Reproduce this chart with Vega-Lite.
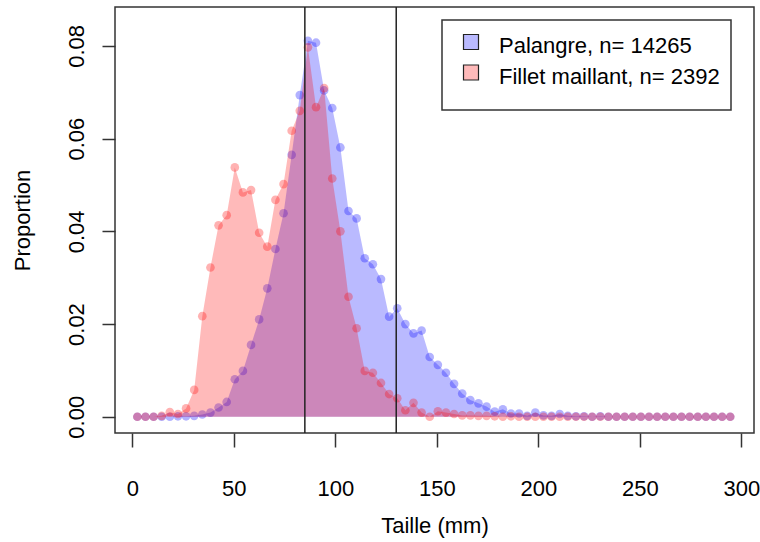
{
  "$schema": "https://vega.github.io/schema/vega-lite/v6.json",
  "width": 639,
  "height": 426,
  "autosize": {"type": "none"},
  "padding": {"left": 115, "top": 7, "right": 6, "bottom": 109},
  "background": "white",
  "config": {
    "font": "Liberation Sans",
    "view": {"stroke": "#333", "strokeWidth": 1.5},
    "axis": {"grid": false, "domain": false, "labelFont": "Liberation Sans", "titleFont": "Liberation Sans", "labelColor": "#000", "titleColor": "#000", "titleFontWeight": "normal", "tickColor": "#333", "tickWidth": 1.5}
  },
  "datasets": {
    "palangre": [
      {"taille": 2.5, "proportion": 0}, {"taille": 6.5, "proportion": 0}, {"taille": 10.5, "proportion": 0}, {"taille": 14.5, "proportion": 0},
      {"taille": 18.5, "proportion": 0}, {"taille": 22.5, "proportion": 0.0001}, {"taille": 26.5, "proportion": 0.0001}, {"taille": 30.5, "proportion": 0.0002},
      {"taille": 34.5, "proportion": 0.0005}, {"taille": 38.5, "proportion": 0.0009}, {"taille": 42.5, "proportion": 0.002}, {"taille": 46.5, "proportion": 0.0032},
      {"taille": 50.5, "proportion": 0.0081}, {"taille": 54.5, "proportion": 0.0099}, {"taille": 58.5, "proportion": 0.0155}, {"taille": 62.5, "proportion": 0.021},
      {"taille": 66.5, "proportion": 0.0277}, {"taille": 70.5, "proportion": 0.0362}, {"taille": 74.5, "proportion": 0.0439}, {"taille": 78.5, "proportion": 0.0565},
      {"taille": 82.5, "proportion": 0.0694}, {"taille": 86.5, "proportion": 0.0811}, {"taille": 90.5, "proportion": 0.0807}, {"taille": 94.5, "proportion": 0.0704},
      {"taille": 98.5, "proportion": 0.0666}, {"taille": 102.5, "proportion": 0.0581}, {"taille": 106.5, "proportion": 0.0444}, {"taille": 110.5, "proportion": 0.0428},
      {"taille": 114.5, "proportion": 0.0342}, {"taille": 118.5, "proportion": 0.0329}, {"taille": 122.5, "proportion": 0.0297}, {"taille": 126.5, "proportion": 0.0216},
      {"taille": 130.5, "proportion": 0.0234}, {"taille": 134.5, "proportion": 0.02}, {"taille": 138.5, "proportion": 0.018}, {"taille": 142.5, "proportion": 0.0186},
      {"taille": 146.5, "proportion": 0.0129}, {"taille": 150.5, "proportion": 0.0112}, {"taille": 154.5, "proportion": 0.0095}, {"taille": 158.5, "proportion": 0.0071},
      {"taille": 162.5, "proportion": 0.005}, {"taille": 166.5, "proportion": 0.0036}, {"taille": 170.5, "proportion": 0.0029}, {"taille": 174.5, "proportion": 0.0022},
      {"taille": 178.5, "proportion": 0.0011}, {"taille": 182.5, "proportion": 0.0016}, {"taille": 186.5, "proportion": 0.0007}, {"taille": 190.5, "proportion": 0.0007},
      {"taille": 194.5, "proportion": 0.0002}, {"taille": 198.5, "proportion": 0.0009}, {"taille": 202.5, "proportion": 0.0003}, {"taille": 206.5, "proportion": 0.0002},
      {"taille": 210.5, "proportion": 0.0006}, {"taille": 214.5, "proportion": 0.0002}, {"taille": 218.5, "proportion": 0.0001}, {"taille": 222.5, "proportion": 0.0001},
      {"taille": 226.5, "proportion": 0}, {"taille": 230.5, "proportion": 0.0001}, {"taille": 234.5, "proportion": 0}, {"taille": 238.5, "proportion": 0},
      {"taille": 242.5, "proportion": 0}, {"taille": 246.5, "proportion": 0}, {"taille": 250.5, "proportion": 0}, {"taille": 254.5, "proportion": 0},
      {"taille": 258.5, "proportion": 0}, {"taille": 262.5, "proportion": 0}, {"taille": 266.5, "proportion": 0}, {"taille": 270.5, "proportion": 0},
      {"taille": 274.5, "proportion": 0}, {"taille": 278.5, "proportion": 0}, {"taille": 282.5, "proportion": 0}, {"taille": 286.5, "proportion": 0},
      {"taille": 290.5, "proportion": 0}, {"taille": 294.5, "proportion": 0}
    ],
    "fillet": [
      {"taille": 2.5, "proportion": 0}, {"taille": 6.5, "proportion": 0}, {"taille": 10.5, "proportion": 0}, {"taille": 14.5, "proportion": 0.0002},
      {"taille": 18.5, "proportion": 0.001}, {"taille": 22.5, "proportion": 0.0006}, {"taille": 26.5, "proportion": 0.0018}, {"taille": 30.5, "proportion": 0.0058},
      {"taille": 34.5, "proportion": 0.0217}, {"taille": 38.5, "proportion": 0.0322}, {"taille": 42.5, "proportion": 0.0413}, {"taille": 46.5, "proportion": 0.0435},
      {"taille": 50.5, "proportion": 0.0538}, {"taille": 54.5, "proportion": 0.0484}, {"taille": 58.5, "proportion": 0.0489}, {"taille": 62.5, "proportion": 0.0397},
      {"taille": 66.5, "proportion": 0.0367}, {"taille": 70.5, "proportion": 0.0468}, {"taille": 74.5, "proportion": 0.0502}, {"taille": 78.5, "proportion": 0.0617},
      {"taille": 82.5, "proportion": 0.066}, {"taille": 86.5, "proportion": 0.0797}, {"taille": 90.5, "proportion": 0.0668}, {"taille": 94.5, "proportion": 0.0709},
      {"taille": 98.5, "proportion": 0.0514}, {"taille": 102.5, "proportion": 0.04}, {"taille": 106.5, "proportion": 0.0259}, {"taille": 110.5, "proportion": 0.0191},
      {"taille": 114.5, "proportion": 0.0099}, {"taille": 118.5, "proportion": 0.0095}, {"taille": 122.5, "proportion": 0.0073}, {"taille": 126.5, "proportion": 0.0049},
      {"taille": 130.5, "proportion": 0.004}, {"taille": 134.5, "proportion": 0.0014}, {"taille": 138.5, "proportion": 0.003}, {"taille": 142.5, "proportion": 0.0009},
      {"taille": 146.5, "proportion": 0}, {"taille": 150.5, "proportion": 0.0012}, {"taille": 154.5, "proportion": 0.0009}, {"taille": 158.5, "proportion": 0.0006},
      {"taille": 162.5, "proportion": 0.0003}, {"taille": 166.5, "proportion": 0.0003}, {"taille": 170.5, "proportion": 0.0002}, {"taille": 174.5, "proportion": 0.0002},
      {"taille": 178.5, "proportion": 0.0001}, {"taille": 182.5, "proportion": 0}, {"taille": 186.5, "proportion": 0.0001}, {"taille": 190.5, "proportion": 0},
      {"taille": 194.5, "proportion": 0}, {"taille": 198.5, "proportion": 0}, {"taille": 202.5, "proportion": 0}, {"taille": 206.5, "proportion": 0},
      {"taille": 210.5, "proportion": 0}, {"taille": 214.5, "proportion": 0}, {"taille": 218.5, "proportion": 0}, {"taille": 222.5, "proportion": 0},
      {"taille": 226.5, "proportion": 0}, {"taille": 230.5, "proportion": 0}, {"taille": 234.5, "proportion": 0}, {"taille": 238.5, "proportion": 0},
      {"taille": 242.5, "proportion": 0}, {"taille": 246.5, "proportion": 0}, {"taille": 250.5, "proportion": 0}, {"taille": 254.5, "proportion": 0},
      {"taille": 258.5, "proportion": 0}, {"taille": 262.5, "proportion": 0}, {"taille": 266.5, "proportion": 0}, {"taille": 270.5, "proportion": 0},
      {"taille": 274.5, "proportion": 0}, {"taille": 278.5, "proportion": 0}, {"taille": 282.5, "proportion": 0}, {"taille": 286.5, "proportion": 0},
      {"taille": 290.5, "proportion": 0}, {"taille": 294.5, "proportion": 0}
    ],
    "limites": [{"taille": 85}, {"taille": 130}]
  },
  "encoding": {
    "x": {
      "field": "taille", "type": "quantitative",
      "scale": {"domain": [-8.5, 306.2], "nice": false, "zero": false},
      "axis": {"values": [0, 50, 100, 150, 200, 250, 300], "tickSize": 14, "labelFontSize": 22, "labelPadding": 31, "title": "Taille (mm)", "titleFontSize": 22, "titlePadding": 16}
    },
    "y": {
      "field": "proportion", "type": "quantitative",
      "scale": {"domain": [-0.0035, 0.0884], "nice": false, "zero": false},
      "axis": {"values": [0, 0.02, 0.04, 0.06, 0.08], "format": ".2f", "tickSize": 13, "labelFontSize": 22, "labelAngle": -90, "labelAlign": "center", "labelBaseline": "bottom", "labelPadding": 14, "title": "Proportion", "titleFontSize": 22, "titlePadding": 31}
    }
  },
  "layer": [
    {
      "data": {"name": "palangre"},
      "mark": {"type": "area", "fillOpacity": 0.27, "interpolate": "linear"},
      "encoding": {
        "y2": {"datum": 0},
        "color": {
          "datum": "Palangre, n= 14265",
          "scale": {"domain": ["Palangre, n= 14265", "Fillet maillant, n= 2392"], "range": ["#0000ff", "#ff0000"]},
          "legend": {
            "orient": "none", "legendX": 327, "legendY": 13,
            "title": " ", "titleOrient": "bottom", "titleFontSize": 7, "titlePadding": 4,
            "strokeColor": "#333", "padding": 11, "fillColor": "white",
            "symbolType": "square", "symbolSize": 225, "symbolOffset": 7, "symbolStrokeColor": "#222",
            "labelFont": "Liberation Sans", "labelFontSize": 22, "labelColor": "#000", "labelOffset": 17, "rowPadding": 4.5, "labelLimit": 400,
            "encode": {
              "legend": {"update": {"strokeWidth": {"value": 1.5}}},
              "symbols": {"update": {"fillOpacity": {"value": 0.27}, "stroke": {"value": "#222"}, "strokeWidth": {"value": 1.2}}},
              "labels": {"update": {"dy": {"value": 4}}}
            }
          }
        }
      }
    },
    {
      "data": {"name": "palangre"},
      "mark": {"type": "circle", "color": "#0000ff", "opacity": 0.3, "size": 75}
    },
    {
      "data": {"name": "fillet"},
      "mark": {"type": "area", "fillOpacity": 0.27, "interpolate": "linear"},
      "encoding": {
        "y2": {"datum": 0},
        "color": {"datum": "Fillet maillant, n= 2392"}
      }
    },
    {
      "data": {"name": "fillet"},
      "mark": {"type": "circle", "color": "#ff0000", "opacity": 0.3, "size": 75}
    },
    {
      "data": {"name": "limites"},
      "mark": {"type": "rule", "color": "#222", "strokeWidth": 1.5},
      "encoding": {"x": {"field": "taille", "type": "quantitative"}, "y": null}
    }
  ]
}
